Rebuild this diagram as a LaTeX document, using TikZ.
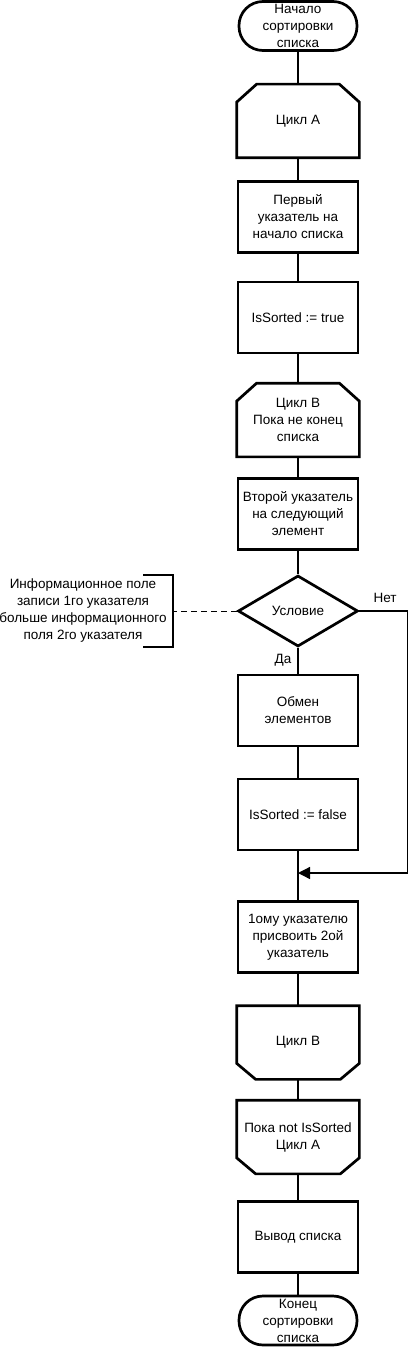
\documentclass[tikz,border=0pt]{standalone}
\usepackage{fontspec}
\setmainfont{Liberation Sans}
\usetikzlibrary{shapes.geometric,arrows.meta}

% outline of a loop start (top corners cut) and a loop end (bottom corners cut)
\newcommand{\looptop}[1]{%
  \draw[outline] ([xshift=20pt]#1.north west) -- ([xshift=-20pt]#1.north east)
    -- ([yshift=-18pt]#1.north east) -- (#1.south east) -- (#1.south west)
    -- ([yshift=-18pt]#1.north west) -- cycle;}
\newcommand{\loopbottom}[1]{%
  \draw[outline] (#1.north west) -- (#1.north east)
    -- ([yshift=16pt]#1.south east) -- ([xshift=-19pt]#1.south east)
    -- ([xshift=19pt]#1.south west) -- ([yshift=16pt]#1.south west) -- cycle;}

\begin{document}
\begin{tikzpicture}[x=1pt, y=-1pt, >=stealth,
    font=\fontsize{13.5}{17}\selectfont,
    outline/.style={line width=2.7pt, line join=miter},
    box/.style={draw, outline, minimum width=120pt, minimum height=71pt, align=center, inner sep=0pt},
    loopbox/.style={box, draw=none},
    term/.style={draw, outline, minimum width=118pt, minimum height=49pt, rounded corners=24pt, align=center, inner sep=0pt},
    cond/.style={draw, outline, diamond, aspect=1.7, minimum width=120pt, minimum height=71pt, inner sep=0pt},
    link/.style={line width=1.3pt}]
  \useasboundingbox (0,0) rectangle (408,1348);

  \node[term] (start) at (298,26) {Начало\\сортировки\\списка};
  \node[loopbox] (cycA) at (298,121) {Цикл A};
  \node[box] (first) at (298,217) {Первый\\указатель на\\начало списка};
  \node[box] (sortT) at (298,317.5) {IsSorted := true};
  \node[loopbox] (cycB) at (298,420) {Цикл B\\Пока не конец\\списка};
  \node[box] (second) at (298,514) {Второй указатель\\на следующий\\элемент};
  \node[cond] (cond) at (298,611) {Условие};
  \node[box] (swap) at (298,710.5) {Обмен\\элементов};
  \node[box] (sortF) at (298,814.5) {IsSorted := false};
  \node[box] (assign) at (298,937) {1ому указателю\\присвоить 2ой\\указатель};
  \node[loopbox] (endB) at (298,1042.5) {Цикл B};
  \node[loopbox] (endA) at (298,1137) {Пока not IsSorted\\Цикл A};
  \node[box] (output) at (298,1237) {Вывод списка};
  \node[term] (stop) at (298,1320.5) {Конец\\сортировки\\списка};

  \looptop{cycA}
  \looptop{cycB}
  \loopbottom{endB}
  \loopbottom{endA}

  \draw[link] (start) -- (cycA) -- (first) -- (sortT) -- (cycB) -- (second) -- (cond);
  \draw[link] (cond) -- (swap) -- (sortF) -- (assign) -- (endB) -- (endA) -- (output) -- (stop);

  \coordinate (merge) at (298,873);
  \draw[link, -{Triangle[length=12pt,width=12pt]}] (cond.east) -- ++(48,0) |- (merge);
  \node (no) at (385,598) {Нет};
  \node (yes) at (283,660) {Да};

  % comment on the condition
  \node[align=center] (note) at (83,611) {Информационное поле\\записи 1го указателя\\больше информационного\\поля 2го указателя};
  \coordinate (brk) at (173,611);
  \draw[outline] (143,575) -- (173,575) -- (173,647) -- (143,647);
  \draw[line width=1pt, dashed, dash pattern=on 6pt off 4pt] (cond.west) -- (brk);
\end{tikzpicture}
\end{document}
